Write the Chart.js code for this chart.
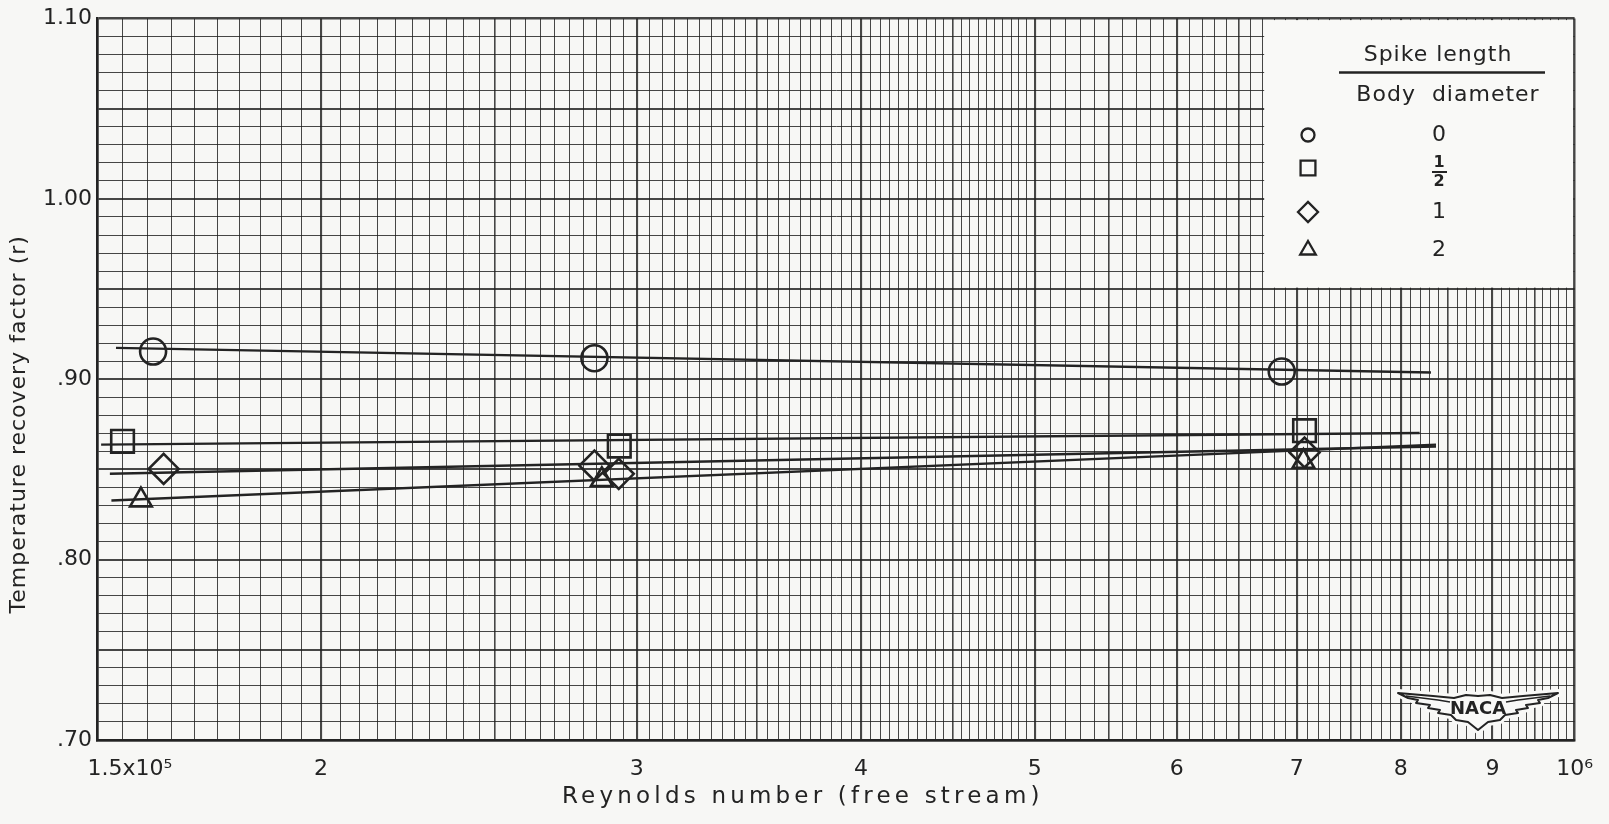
<!DOCTYPE html>
<html><head><meta charset="utf-8">
<script src="https://cdn.jsdelivr.net/npm/chart.js@4.4.1/dist/chart.umd.min.js"></script>
<style>html,body{margin:0;padding:0;background:#f7f7f5;}#wrap{width:1609px;height:824px;}</style>
</head><body><div id="wrap"><canvas id="c" width="1609" height="824"></canvas></div>
<script>
// ---- text ----
const xTitle = 'Reynolds number (free stream)';
const yTitle = 'Temperature recovery factor (r)';
const legendHeaderTop = 'Spike length';
const legendHeaderBottom = 'Body  diameter';
const legendRatios = ['0', '1/2', '1', '2'];

// ---- tick labels ----
const xLabelValues = [1.5e5, 2e5, 3e5, 4e5, 5e5, 6e5, 7e5, 8e5, 9e5, 1e6];
const xLabelTexts = ['\u2002\u2002\u2002\u2002\u2002\u20021.5x10\u2075', '2', '3', '4', '5', '6', '7', '8', '9', '10\u2076'];
const yLabelValues = [0.70, 0.80, 0.90, 1.00, 1.10];
const yLabelTexts = ['.70', '.80', '.90', '1.00', '1.10'];

// ---- measured points (Reynolds number, recovery factor r) ----
const circleRe = [1.612e5, 2.841e5, 6.866e5];
const circleR = [0.9154, 0.9117, 0.9043];
const squareRe = [1.550e5, 2.933e5, 7.070e5];
const squareR = [0.8656, 0.8630, 0.8715];
const diamondRe = [1.634e5, 2.841e5, 2.931e5, 7.070e5];
const diamondR = [0.8503, 0.8521, 0.8476, 0.8594];
const triangleRe = [1.587e5, 2.868e5, 7.060e5];
const triangleR = [0.8330, 0.8443, 0.8544];

// ---- faired lines ----
const circleFitRe = [1.537e5, 8.316e5];
const circleFitR = [0.9174, 0.9038];
const squareFitRe = [1.508e5, 8.196e5];
const squareFitR = [0.8638, 0.8702];
const diamondFitRe = [1.525e5, 8.370e5];
const diamondFitR = [0.8476, 0.8627];
const triangleFitRe = [1.528e5, 8.370e5];
const triangleFitR = [0.8328, 0.8638];

// ---- graph-paper rulings ----
const xGrid = [];
for (let k = 150; k < 500; k += 5) xGrid.push(k * 1e3);
for (let k = 500; k <= 1000; k += 10) xGrid.push(k * 1e3);
const yGrid = [];
for (let i = 70; i <= 110; i++) yGrid.push(i / 100);

const INK = '#232323';
const FONT = 'DejaVu Sans';

const pts = (xs, ys) => xs.map((x, i) => ({x, y: ys[i]}));

function markerSet(label, xs, ys, style, r) {
  return {label, data: pts(xs, ys), showLine: false, pointStyle: style, pointRadius: r,
    pointBorderWidth: 2.6, pointBorderColor: INK, pointBackgroundColor: 'rgba(0,0,0,0)',
    borderColor: INK, backgroundColor: 'rgba(0,0,0,0)', order: 1};
}
function fitSet(label, xs, ys) {
  return {label, data: pts(xs, ys), showLine: true, pointRadius: 0, borderWidth: 2.4,
    borderColor: INK, backgroundColor: 'rgba(0,0,0,0)', order: 2};
}

const titleSpacing = {
  id: 'titleSpacing',
  beforeDraw(chart) {
    const cfg = {x: {ls: '4.2px', dx: -33, dy: 0}, y: {ls: '1px', dx: 0, dy: 45}};
    for (const id of ['x', 'y']) {
      const s = chart.scales[id];
      if (s && !s._lsPatched) {
        const orig = s.drawTitle.bind(s);
        const c = cfg[id];
        s.drawTitle = function () {
          const ctx = this.ctx; ctx.save(); ctx.letterSpacing = c.ls; ctx.translate(c.dx, c.dy); orig(); ctx.restore();
        };
        s._lsPatched = true;
      }
    }
  }
};

const legendBox = {
  id: 'legendBox',
  beforeDatasetsDraw(chart) {
    const {ctx, chartArea: a, scales: {x, y}} = chart;
    const left = x.getPixelForValue(6.7e5) + 1.5;
    const bottom = y.getPixelForValue(0.95) - 1.5;
    ctx.save();
    ctx.fillStyle = '#f9f9f7';
    ctx.fillRect(left, a.top + 1.5, a.right - 1.5 - left, bottom - a.top - 1.5);
    ctx.fillStyle = INK; ctx.strokeStyle = INK;
    ctx.textAlign = 'center'; ctx.textBaseline = 'middle';
    ctx.letterSpacing = '1px';
    ctx.font = `22px "${FONT}"`;
    ctx.fillText(legendHeaderTop, 1438, 55);
    ctx.lineWidth = 2.5;
    ctx.beginPath(); ctx.moveTo(1339, 72.5); ctx.lineTo(1545, 72.5); ctx.stroke();
    ctx.fillText(legendHeaderBottom, 1448, 95);
    ctx.letterSpacing = '0px';
    const styles = [['circle', 6.5], ['rect', 10.5], ['rectRot', 10], ['triangle', 9]];
    const ys = [135, 168, 212, 250];
    ctx.fillStyle = 'rgba(0,0,0,0)';
    styles.forEach(([st, r], i) => {
      ctx.lineWidth = 2.3;
      Chart.helpers.drawPoint(ctx, {pointStyle: st, radius: r, rotation: 0, borderWidth: 2.3}, 1308, ys[i]);
    });
    ctx.fillStyle = INK;
    legendRatios.forEach((t, i) => {
      if (t.includes('/')) {
        const [n, d] = t.split('/');
        ctx.font = `bold 16px "${FONT}"`;
        ctx.fillText(n, 1439, 163);
        ctx.fillText(d, 1439, 182);
        ctx.lineWidth = 2;
        ctx.beginPath(); ctx.moveTo(1432, 172); ctx.lineTo(1447, 172); ctx.stroke();
      } else {
        ctx.font = `22px "${FONT}"`;
        ctx.fillText(t, 1439, ys[i]);
      }
    });
    ctx.restore();
  },
  afterDatasetsDraw(chart) {
    // NACA wing emblem
    const {ctx} = chart;
    const cx = 1478, cy = 708;
    const P = (u, v) => [cx + u, cy + v];
    const outline = [[-80,-15],[-45,-12],[-24,-10],[-12,-13],[0,-12],[12,-13],[24,-10],[45,-12],[80,-15],
      [70,-10],[60,-8],[62,-5],[48,-3],[50,0],[38,2],[40,5],[27,7],[22,12],[10,14],[0,22],
      [-10,14],[-22,12],[-27,7],[-40,5],[-38,2],[-50,0],[-48,-3],[-62,-5],[-60,-8],[-70,-10]];
    ctx.save();
    ctx.beginPath();
    outline.forEach(([u, v], i) => { const [px, py] = P(u, v); i ? ctx.lineTo(px, py) : ctx.moveTo(px, py); });
    ctx.closePath();
    ctx.lineJoin = 'round';
    ctx.strokeStyle = '#f9f9f7'; ctx.lineWidth = 8; ctx.stroke();
    ctx.fillStyle = '#f9f9f7'; ctx.fill();
    ctx.strokeStyle = INK; ctx.lineWidth = 2; ctx.stroke();
    ctx.lineWidth = 1.5;
    ctx.beginPath();
    ctx.moveTo(...P(-72, -12)); ctx.lineTo(...P(-40, -8)); ctx.lineTo(...P(-28, -6));
    ctx.moveTo(...P(72, -12)); ctx.lineTo(...P(40, -8)); ctx.lineTo(...P(28, -6));
    ctx.stroke();
    ctx.fillStyle = INK; ctx.font = `bold 18px "${FONT}"`;
    ctx.textAlign = 'center'; ctx.textBaseline = 'middle';
    ctx.fillText('NACA', cx, cy + 1);
    ctx.restore();
  }
};

function xLabel(v) {
  const i = xLabelValues.findIndex(t => Math.abs(t - v) / t < 1e-6);
  return i >= 0 ? xLabelTexts[i] : '';
}
function yLabel(v) {
  const i = yLabelValues.findIndex(t => Math.abs(t - v) < 1e-6);
  return i >= 0 ? yLabelTexts[i] : '';
}

new Chart(document.getElementById('c'), {
  type: 'scatter',
  data: {
    datasets: [
      fitSet('fit 0', circleFitRe, circleFitR),
      fitSet('fit 1/2', squareFitRe, squareFitR),
      fitSet('fit 1', diamondFitRe, diamondFitR),
      fitSet('fit 2', triangleFitRe, triangleFitR),
      markerSet('0', circleRe, circleR, 'circle', 13),
      markerSet('1/2', squareRe, squareR, 'rect', 16),
      markerSet('1', diamondRe, diamondR, 'rectRot', 15),
      markerSet('2', triangleRe, triangleR, 'triangle', 12.5)
    ]
  },
  options: {
    responsive: false, animation: false,
    layout: {padding: {top: 17, right: 32, left: 0, bottom: 0}},
    plugins: {legend: {display: false}, tooltip: {enabled: false}},
    scales: {
      x: {
        type: 'logarithmic', min: 1.5e5, max: 1e6,
        afterBuildTicks: s => { s.ticks = xGrid.map(v => ({value: v})); },
        afterFit: s => { s.height = 84; },
        grid: {
          drawTicks: false, color: 'rgba(30,30,30,0.82)',
          lineWidth: c => {
            const m = Math.round(c.tick.value / 1e3);
            if (m === 1000 || m === 150) return 2.5;
            if (m % 100 === 0) return 2.1;
            if (m % 50 === 0) return 1.6;
            return 1;
          }
        },
        border: {display: true, width: 2.5, color: INK},
        ticks: {autoSkip: false, maxRotation: 0, minRotation: 0, padding: 16, color: INK,
          font: {family: FONT, size: 22}, callback: v => xLabel(v)},
        title: {display: true, text: xTitle, color: INK, font: {family: FONT, size: 23},
          padding: {top: 0, bottom: 13}}
      },
      y: {
        type: 'linear', min: 0.70, max: 1.10,
        afterBuildTicks: s => { s.ticks = yGrid.map(v => ({value: v})); },
        afterFit: s => { s.width = 97; },
        grid: {
          drawTicks: false, color: 'rgba(30,30,30,0.82)',
          lineWidth: c => {
            const m = Math.round(c.tick.value * 100);
            if (m === 110 || m === 70) return 2.5;
            if (m % 5 === 0) return 2;
            return 1;
          }
        },
        border: {display: true, width: 2.5, color: INK},
        ticks: {autoSkip: false, padding: 5, color: INK, font: {family: FONT, size: 22},
          callback: v => yLabel(v)},
        title: {display: true, text: yTitle, color: INK, font: {family: FONT, size: 22},
          padding: {top: 6, bottom: 0}}
      }
    }
  },
  plugins: [titleSpacing, legendBox]
});
</script></body></html>
